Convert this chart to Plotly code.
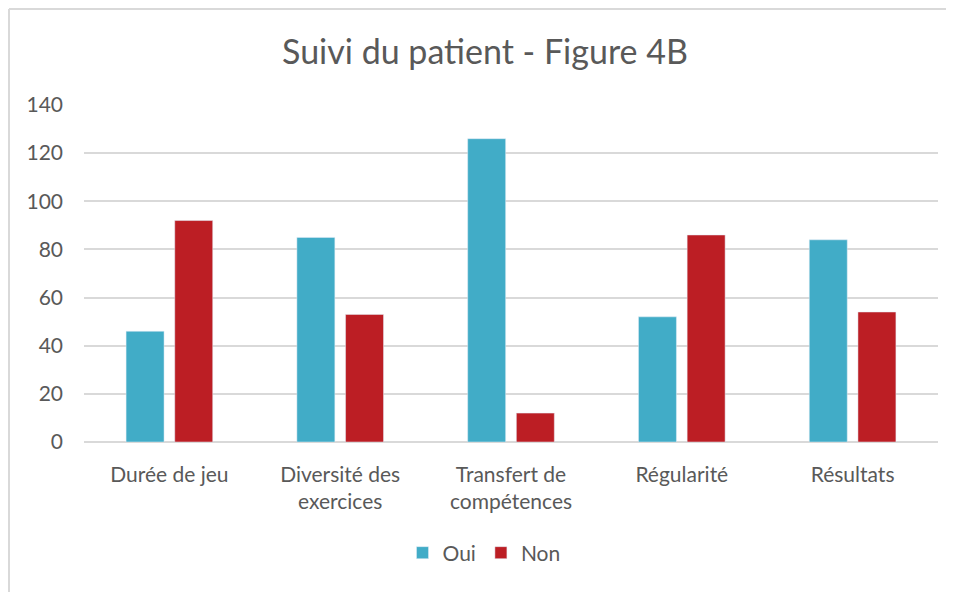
import plotly.graph_objects as go

# Chart data
categories = ["Durée de jeu", "Diversité des<br>exercices", "Transfert de<br>compétences", "Régularité", "Résultats"]
oui = [46, 85, 126, 52, 84]
non = [92, 53, 12, 86, 54]
y_ticks = [0, 20, 40, 60, 80, 100, 120, 140]

font_name = "Lato, Open Sans, sans-serif"
text_col = "#595959"

fig = go.Figure()
fig.add_trace(go.Bar(x=categories, y=oui, name="Oui", marker_color="#41ACC7"))
fig.add_trace(go.Bar(x=categories, y=non, name="Non", marker_color="#BC1E24"))

# page has an 8px body margin, so margins are shifted by 8px
fig.update_layout(
    width=954, height=592,
    margin=dict(l=76, r=24, t=97, b=158),
    paper_bgcolor="white", plot_bgcolor="white",
    font=dict(family=font_name, color=text_col, size=21),
    title=dict(text="Suivi du patient - Figure 4B", x=0.5, xanchor="center",
               y=1 - 44 / 592, yanchor="middle", font=dict(size=34, color=text_col)),
    barmode="group", bargap=0.43, bargroupgap=0.22,
    legend=dict(orientation="h", x=0.5 - 27 / 854, xanchor="center", y=-111 / 337, yanchor="middle",
                font=dict(size=21, color=text_col), itemwidth=30),
    showlegend=True,
)
fig.update_xaxes(showgrid=False, showline=False, ticks="", tickfont=dict(size=21),
                 ticklabelstandoff=18)
fig.update_yaxes(range=[0, 140], tickvals=y_ticks, showgrid=True, gridcolor="#D9D9D9",
                 gridwidth=1.5, zeroline=True, zerolinecolor="#D9D9D9", zerolinewidth=1.5,
                 ticks="", ticklabelstandoff=20, tickfont=dict(size=21))

# light outer frame: only the top and left edges show in the window
fx = -75 / 854
fy = 1 + 96 / 337
fig.add_shape(type="line", xref="paper", yref="paper", x0=fx, x1=fx, y0=fy, y1=-150 / 337,
              line=dict(color="#D9D9D9", width=2))
fig.add_shape(type="line", xref="paper", yref="paper", x0=fx, x1=1 + 8 / 854, y0=fy, y1=fy,
              line=dict(color="#D9D9D9", width=2))

fig.write_html("out.html")
